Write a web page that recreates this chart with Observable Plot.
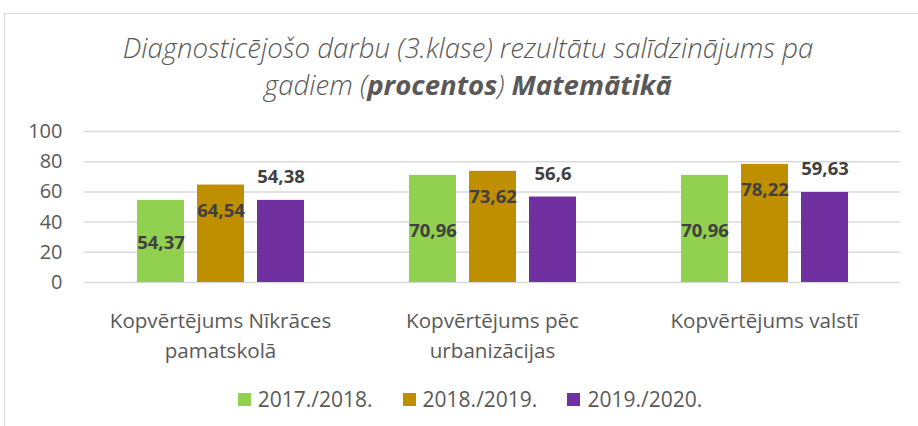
<!DOCTYPE html>
<html>
<head>
<meta charset="utf-8">
<script src="https://cdn.jsdelivr.net/npm/d3@7"></script>
<script src="https://cdn.jsdelivr.net/npm/@observablehq/plot@0.6"></script>
<style>
  html, body { margin: 0; padding: 0; background: #fff; }
  #wrap { position: relative; width: 918px; height: 426px; overflow: hidden; font-family: "Open Sans", sans-serif; }
  #frame { position: absolute; left: 4px; top: 13px; width: 940px; height: 440px; border-left: 1px solid #d9d9d9; border-top: 1px solid #d9d9d9; }
  #title { position: absolute; left: 0; top: 29px; width: 936px; text-align: center; font-size: 27.6px; line-height: 37px; font-style: italic; font-weight: 300; color: #595959; white-space: nowrap; }
  #title b { font-weight: 700; }
  #chart { position: absolute; left: 0; top: 110px; }
  #legend { position: absolute; left: 0; top: 387px; width: 940px; display: flex; justify-content: center; gap: 30px; font-size: 21px; line-height: 24px; color: #595959; }
  .item { display: flex; align-items: center; gap: 7px; }
  .sw { width: 13px; height: 13px; display: inline-block; }
</style>
</head>
<body>
<div id="wrap">
  <div id="frame"></div>
  <div id="title">Diagnosticējošo darbu (3.klase) rezultātu salīdzinājums pa<br>gadiem (<b>procentos</b>) <b>Matemātikā</b></div>
  <div id="chart"></div>
  <div id="legend"></div>
</div>
<script>
const categories = ["Kopvērtējums Nīkrāces\npamatskolā", "Kopvērtējums pēc\nurbanizācijas", "Kopvērtējums valstī"];
const years = ["2017./2018.", "2018./2019.", "2019./2020."];
const v2017 = [54.37, 70.96, 70.96];
const v2018 = [64.54, 73.62, 78.22];
const v2019 = [54.38, 56.6, 59.63];
const yTicks = [0, 20, 40, 60, 80, 100];
const colors = ["#92d050", "#bf8f00", "#7030a0"];

const series = [v2017, v2018, v2019];
const rows = [];
categories.forEach((c, i) => years.forEach((y, j) => rows.push({cat: c, year: y, value: series[j][i]})));
const fmt = d => String(d).replace(".", ",");
const byYear = y => rows.filter(r => r.year === y);

const labelStyle = {fontSize: 18.5, fontWeight: 700, fill: "#404040", text: d => fmt(d.value)};

const plot = Plot.plot({
  width: 918,
  height: 260,
  marginLeft: 84,
  marginRight: 18,
  marginTop: 21,
  marginBottom: 88,
  style: {fontFamily: "'Open Sans', sans-serif", color: "#595959", background: "transparent"},
  fx: {domain: categories, padding: 0, label: null},
  x: {domain: years, paddingInner: 0.217, paddingOuter: 0.875, axis: null},
  y: {domain: [0, 100], label: null},
  color: {domain: years, range: colors},
  marks: [
    Plot.ruleY(yTicks, {stroke: "#d9d9d9", strokeWidth: 1.5}),
    Plot.barY(rows, {fx: "cat", x: "year", y: "value", fill: "year"}),
    Plot.text(byYear(years[0]), {fx: "cat", x: "year", y: d => d.value / 2, dy: 2, ...labelStyle}),
    Plot.text(byYear(years[1]), {fx: "cat", x: "year", y: "value", dy: 26, ...labelStyle}),
    Plot.text(byYear(years[2]), {fx: "cat", x: "year", y: "value", dy: -23, ...labelStyle}),
    Plot.axisY(yTicks, {tickSize: 0, tickPadding: 22, fontSize: 20, label: null}),
    Plot.axisFx({anchor: "bottom", tickSize: 0, tickPadding: 24, fontSize: 20.6, lineHeight: 1.46, label: null})
  ]
});
document.getElementById("chart").appendChild(plot);

const legend = document.getElementById("legend");
years.forEach((y, i) => {
  const it = document.createElement("div");
  it.className = "item";
  it.innerHTML = `<span class="sw" style="background:${colors[i]}"></span><span>${y}</span>`;
  legend.appendChild(it);
});
</script>
</body>
</html>
